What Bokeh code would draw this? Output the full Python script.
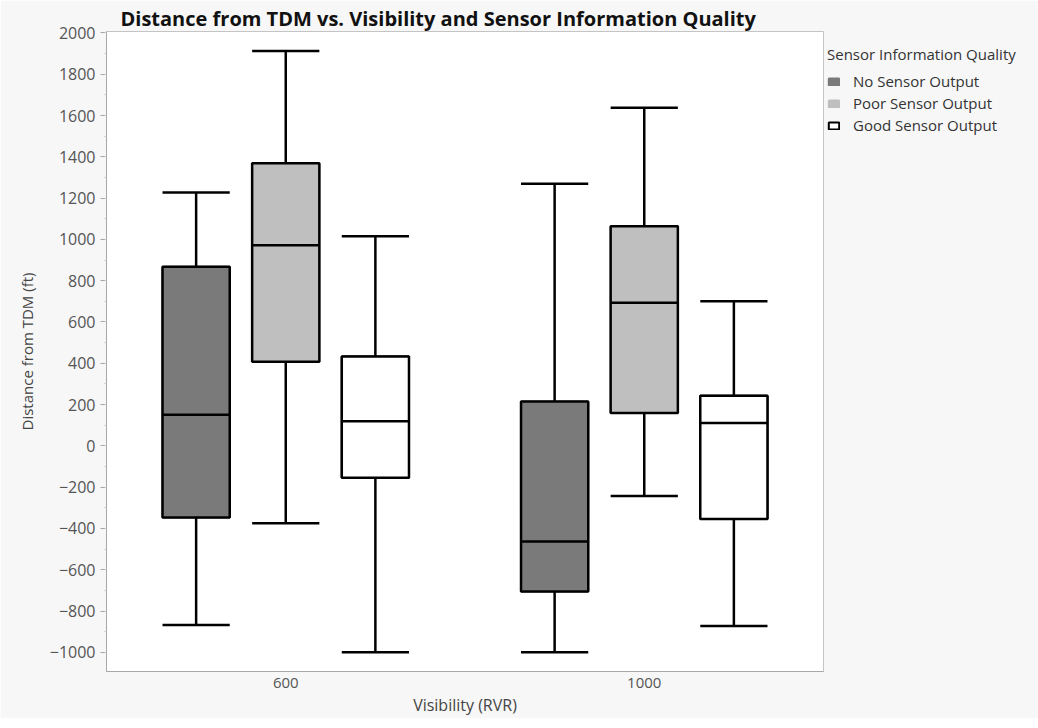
from bokeh.plotting import figure
from bokeh.models import Legend, LegendItem, FixedTicker, ColumnDataSource, Range1d, CDSView, IndexFilter
from bokeh.embed import file_html
from bokeh.resources import INLINE

# ---- data ----
visibility = ["600", "1000"]
quality = ["No Sensor Output", "Poor Sensor Output", "Good Sensor Output"]
fills = ["#7a7a7a", "#bfbfbf", "#ffffff"]

# order: 600-No, 600-Poor, 600-Good, 1000-No, 1000-Poor, 1000-Good
lower = [-868, -375, -1000, -1000, -243, -873]
q1 = [-347, 407, -155, -705, 159, -354]
median = [151, 972, 119, -463, 693, 111]
q3 = [868, 1369, 433, 215, 1064, 243]
upper = [1227, 1912, 1015, 1270, 1638, 701]

yticks = list(range(-1000, 2001, 200))
yminor = list(range(-1000, 2001, 100))

# ---- positions ----
W = 0.75
xs, cols, qidx = [], [], []
for g in range(len(visibility)):
    for k in range(len(quality)):
        xs.append(1 + 4 * g + k)
        cols.append(fills[k])
        qidx.append(k)
src = ColumnDataSource(dict(
    x=xs, x0=[x - W / 2 for x in xs], x1=[x + W / 2 for x in xs],
    lower=lower, q1=q1, med=median, q3=q3, upper=upper, fill=cols))

FONT = "Open Sans"
FH = 640
p = figure(frame_width=717, frame_height=FH,
           x_range=Range1d(0, 8), y_range=Range1d(-1093, 2007),
           output_backend="svg", toolbar_location=None,
           min_border_left=106, min_border_top=31, min_border_right=199, min_border_bottom=38,
           background_fill_color="white", border_fill_color="#f7f7f7",
           outline_line_color="#c4c4c4",
           title="Distance from TDM vs. Visibility and Sensor Information Quality")
p.title.text_font = FONT
p.title.text_font_size = "20px"
p.title.text_font_style = "bold"
p.title.text_color = "#111111"
p.title.align = "left"
p.title.offset = 14
p.title.standoff = 0

p.xgrid.visible = False
p.ygrid.visible = False

# legend renderers (hidden underneath the real boxes)
items = []
for k, q in enumerate(quality):
    lc = "black" if fills[k] == "#ffffff" else fills[k]
    view = CDSView(filter=IndexFilter([i for i, v in enumerate(qidx) if v == k]))
    r = p.vbar(x="x", width=W, bottom="q1", top="q3", source=src, view=view,
               fill_color=fills[k], line_color=lc, line_width=2)
    items.append(LegendItem(label=q, renderers=[r]))

# whiskers
p.segment(x0="x", y0="q3", x1="x", y1="upper", source=src, line_color="black", line_width=2.5)
p.segment(x0="x", y0="lower", x1="x", y1="q1", source=src, line_color="black", line_width=2.5)
p.segment(x0="x0", y0="upper", x1="x1", y1="upper", source=src, line_color="black", line_width=2.5)
p.segment(x0="x0", y0="lower", x1="x1", y1="lower", source=src, line_color="black", line_width=2.5)
# boxes
p.vbar(x="x", width=W, bottom="q1", top="q3", source=src, fill_color="fill",
       line_color="black", line_width=2.5)
p.segment(x0="x0", y0="med", x1="x1", y1="med", source=src, line_color="black", line_width=2.5)

# legend: location is the legend's bottom-left inside the right panel
leg = Legend(items=items, location=(4, FH - 104), title="Sensor Information Quality")
leg.title_text_font = FONT
leg.title_text_font_size = "15px"
leg.title_text_font_style = "normal"
leg.title_text_color = "#333333"
leg.label_text_font = FONT
leg.label_text_font_size = "15px"
leg.label_text_color = "#333333"
leg.glyph_width = 13
leg.glyph_height = 9
leg.label_standoff = 13
leg.label_height = 18
leg.spacing = 2
leg.padding = 3
leg.margin = 0
leg.background_fill_color = "#f7f7f7"
leg.border_line_color = None
leg.title_standoff = 7
p.add_layout(leg, "right")

# axes
p.yaxis.ticker = FixedTicker(ticks=yticks, minor_ticks=yminor)
p.yaxis.axis_label = "Distance from TDM (ft)"
p.xaxis.ticker = FixedTicker(ticks=[2, 6])
p.xaxis.major_label_overrides = {2: visibility[0], 6: visibility[1]}
p.xaxis.axis_label = "Visibility (RVR)"
for ax in (p.xaxis, p.yaxis):
    ax.axis_label_text_font = FONT
    ax.axis_label_text_font_style = "normal"
    ax.axis_label_text_color = "#444444"
    ax.major_label_text_font = FONT
    ax.major_label_text_color = "#555555"
    ax.axis_line_color = "#a8a8a8"
    ax.major_tick_line_color = "#a8a8a8"
    ax.minor_tick_line_color = "#c8c8c8"
p.yaxis.axis_label_text_font_size = "15px"
p.yaxis.major_label_text_font_size = "16px"
p.xaxis.axis_label_text_font_size = "16px"
p.xaxis.major_label_text_font_size = "15px"
p.yaxis.major_tick_out = 6
p.yaxis.major_tick_in = 0
p.yaxis.minor_tick_out = 2
p.yaxis.minor_tick_in = 0
p.yaxis.major_label_standoff = 5
p.yaxis.axis_label_standoff = 10
p.xaxis.major_tick_out = 0
p.xaxis.major_tick_in = 0
p.xaxis.minor_tick_out = 0
p.xaxis.major_label_standoff = 6
p.xaxis.axis_label_standoff = 3

open("out.html", "w").write(file_html(p, INLINE))
